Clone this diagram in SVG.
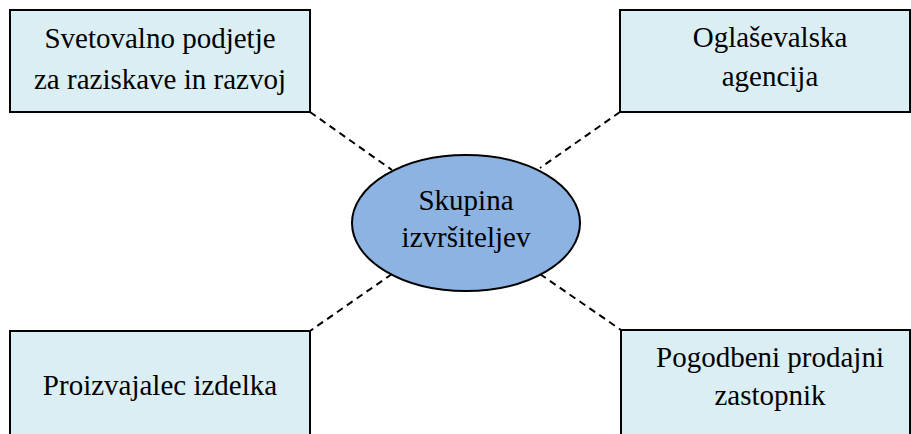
<svg xmlns="http://www.w3.org/2000/svg" width="911" height="434" viewBox="0 0 911 434">
<style>
.box{fill:#DBEEF3;stroke:#000;stroke-width:2}
.ell{fill:#8DB3E2;stroke:#000;stroke-width:2}
text{font-family:'Liberation Serif',serif;font-size:29px;fill:#000;text-anchor:middle}
.c{stroke:#000;stroke-width:2;stroke-dasharray:7,5;fill:none}
</style>
<rect width="911" height="434" fill="#fff"/>
<g id="connectors">
<line class="c" x1="310" y1="112" x2="392" y2="170"/>
<line class="c" x1="620" y1="112" x2="540" y2="168"/>
<line class="c" x1="392" y1="274" x2="310" y2="331"/>
<line class="c" x1="540" y1="274" x2="621" y2="330"/>
</g>
<g id="n_research">
<rect class="box" x="10" y="10" width="300" height="102"/>
<text x="160" y="48" font-family="Liberation Serif, serif">Svetovalno podjetje</text>
<text x="160" y="89" font-family="Liberation Serif, serif">za raziskave in razvoj</text>
</g>
<g id="n_agency">
<rect class="box" x="620" y="10" width="290" height="102"/>
<text x="770" y="47" font-family="Liberation Serif, serif">Oglaševalska</text>
<text x="770" y="86" font-family="Liberation Serif, serif">agencija</text>
</g>
<g id="n_producer">
<rect class="box" x="10" y="331" width="300" height="110"/>
<text x="160" y="395" font-family="Liberation Serif, serif">Proizvajalec izdelka</text>
</g>
<g id="n_agent">
<rect class="box" x="621" y="330" width="289" height="110"/>
<text x="770" y="367" font-family="Liberation Serif, serif">Pogodbeni prodajni</text>
<text x="770" y="405" font-family="Liberation Serif, serif">zastopnik</text>
</g>
<g id="n_center">
<ellipse class="ell" cx="466" cy="223" rx="114" ry="68"/>
<text x="466" y="210" font-family="Liberation Serif, serif">Skupina</text>
<text x="466" y="247" font-family="Liberation Serif, serif">izvršiteljev</text>
</g>
</svg>
